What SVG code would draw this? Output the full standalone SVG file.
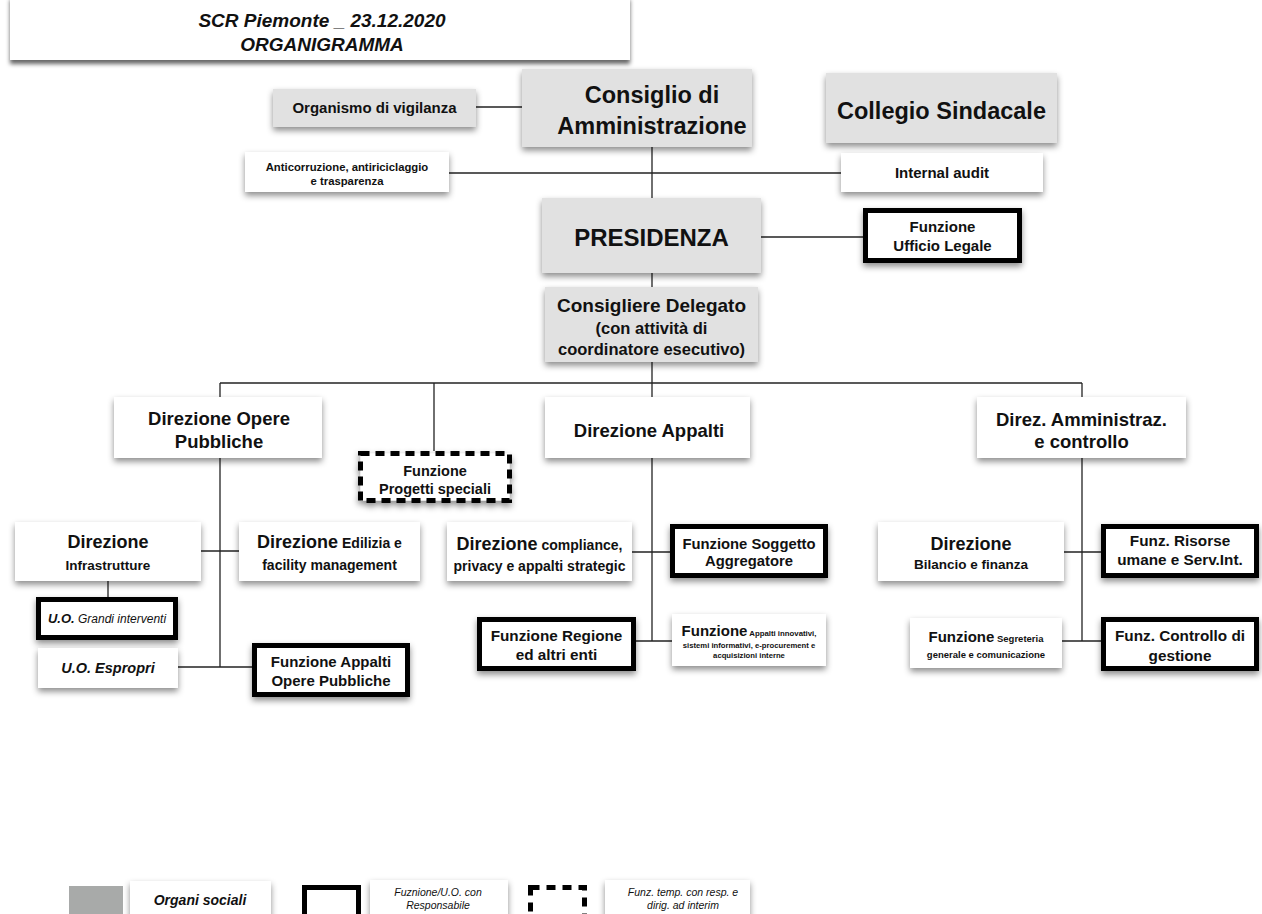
<svg xmlns="http://www.w3.org/2000/svg" width="1262" height="914" viewBox="0 0 1262 914">
  <defs>
    <filter id="shadow" x="-10%" y="-20%" width="120%" height="150%">
      <feDropShadow dx="0" dy="3.5" stdDeviation="3" flood-color="#000" flood-opacity="0.45"/>
    </filter>
    <filter id="shadowTitle" x="-5%" y="-20%" width="110%" height="160%">
      <feDropShadow dx="0" dy="4" stdDeviation="2" flood-color="#000" flood-opacity="0.6"/>
    </filter>
    <style>
      text { font-family: "Liberation Sans", Arial, sans-serif; fill: #111; text-anchor: middle; font-weight: bold; }
      .org { fill: #e1e1e1; filter: url(#shadow); }
      .box { fill: #fff; filter: url(#shadow); }
      .resp { fill: #fff; stroke: #000; stroke-width: 5; filter: url(#shadow); }
      .temp { fill: #fff; stroke: #000; stroke-width: 5; stroke-dasharray: 9 6; filter: url(#shadow); }
      .link { stroke: #222; stroke-width: 1.3; fill: none; }
      .it { font-style: italic; }
      .norm { font-weight: normal; }
    </style>
  </defs>

  <!-- Title -->
  <g id="title">
    <rect x="10" y="-4" width="620" height="64" fill="#fff" filter="url(#shadowTitle)"/>
    <text x="322" y="27" class="it" font-size="19">SCR Piemonte _ 23.12.2020</text>
    <text x="322" y="51" class="it" font-size="19">ORGANIGRAMMA</text>
  </g>

  <!-- Connectors -->
  <g id="connectors" class="link">
    <line x1="476" y1="107" x2="522" y2="107"/>
    <line x1="652" y1="147" x2="652" y2="198"/>
    <line x1="449" y1="173" x2="841" y2="173"/>
    <line x1="761" y1="237" x2="863" y2="237"/>
    <line x1="652" y1="273" x2="652" y2="287"/>
    <line x1="652" y1="362" x2="652" y2="397"/>
    <line x1="220" y1="383" x2="1082" y2="383"/>
    <line x1="220" y1="383" x2="220" y2="397"/>
    <line x1="434" y1="383" x2="434" y2="451"/>
    <line x1="1082" y1="383" x2="1082" y2="397"/>
    <!-- Opere Pubbliche branch -->
    <line x1="220" y1="458" x2="220" y2="667"/>
    <line x1="201" y1="551" x2="239" y2="551"/>
    <line x1="108" y1="581" x2="108" y2="597"/>
    <line x1="178" y1="667" x2="252" y2="667"/>
    <!-- Appalti branch -->
    <line x1="652" y1="458" x2="652" y2="641"/>
    <line x1="632" y1="552" x2="670" y2="552"/>
    <line x1="636" y1="641" x2="672" y2="641"/>
    <!-- Amministrazione branch -->
    <line x1="1082" y1="458" x2="1082" y2="641"/>
    <line x1="1064" y1="552" x2="1101" y2="552"/>
    <line x1="1062" y1="641" x2="1101" y2="641"/>
  </g>

  <g id="organismo-vigilanza">
    <rect class="org" x="273" y="89" width="203" height="38"/>
    <text x="374.5" y="113" font-size="15">Organismo di vigilanza</text>
  </g>

  <g id="consiglio-amministrazione">
    <rect class="org" x="522" y="69" width="230" height="78"/>
    <text x="652" y="103" font-size="23.5">Consiglio di</text>
    <text x="652" y="134" font-size="23.5">Amministrazione</text>
  </g>

  <g id="collegio-sindacale">
    <rect class="org" x="826" y="73" width="231" height="70"/>
    <text x="941.5" y="118.5" font-size="23.5">Collegio Sindacale</text>
  </g>

  <g id="anticorruzione">
    <rect class="box" x="245" y="152" width="204" height="40"/>
    <text x="347" y="171" font-size="11.3">Anticorruzione, antiriciclaggio</text>
    <text x="347" y="185" font-size="11.3">e trasparenza</text>
  </g>

  <g id="internal-audit">
    <rect class="box" x="841" y="153" width="202" height="39"/>
    <text x="942" y="178" font-size="15">Internal audit</text>
  </g>

  <g id="presidenza">
    <rect class="org" x="542" y="198" width="219" height="75"/>
    <text x="651.5" y="246" font-size="24">PRESIDENZA</text>
  </g>

  <g id="ufficio-legale">
    <rect class="resp" x="865.5" y="210.5" width="154" height="50"/>
    <text x="942.5" y="232" font-size="15">Funzione</text>
    <text x="942.5" y="251" font-size="15">Ufficio Legale</text>
  </g>

  <g id="consigliere-delegato">
    <rect class="org" x="545" y="287" width="213" height="75"/>
    <text x="651.5" y="312" font-size="19">Consigliere Delegato</text>
    <text x="651.5" y="334" font-size="16.5">(con attività di</text>
    <text x="651.5" y="355" font-size="16.5">coordinatore esecutivo)</text>
  </g>

  <g id="direzione-opere-pubbliche">
    <rect class="box" x="114" y="397" width="208" height="61"/>
    <text x="219" y="425" font-size="18.5">Direzione Opere</text>
    <text x="219" y="448" font-size="18.5">Pubbliche</text>
  </g>

  <g id="progetti-speciali">
    <rect class="temp" x="360.5" y="453.5" width="149" height="47"/>
    <text x="435" y="476" font-size="14.5">Funzione</text>
    <text x="435" y="494" font-size="14.5">Progetti speciali</text>
  </g>

  <g id="direzione-appalti">
    <rect class="box" x="545" y="397" width="205" height="61"/>
    <text x="649" y="437" font-size="18.5">Direzione Appalti</text>
  </g>

  <g id="direzione-amministrazione">
    <rect class="box" x="977" y="397" width="209" height="61"/>
    <text x="1081.5" y="426" font-size="18.5">Direz. Amministraz.</text>
    <text x="1081.5" y="448" font-size="18.5">e controllo</text>
  </g>

  <g id="direzione-infrastrutture">
    <rect class="box" x="15" y="522" width="186" height="59"/>
    <text x="108" y="548" font-size="18">Direzione</text>
    <text x="108" y="570" font-size="13.5">Infrastrutture</text>
  </g>

  <g id="direzione-edilizia">
    <rect class="box" x="239" y="522" width="181" height="59"/>
    <text x="329.5" y="548"><tspan font-size="18">Direzione</tspan><tspan font-size="14"> Edilizia e</tspan></text>
    <text x="329.5" y="570" font-size="14">facility management</text>
  </g>

  <g id="uo-grandi-interventi">
    <rect class="resp" x="38.5" y="599.5" width="137" height="38"/>
    <text x="107" y="623" class="it"><tspan font-size="13">U.O.</tspan><tspan font-size="12" class="norm"> Grandi interventi</tspan></text>
  </g>

  <g id="uo-espropri">
    <rect class="box" x="38" y="648" width="140" height="40"/>
    <text x="108" y="673" font-size="14.5" class="it">U.O. Espropri</text>
  </g>

  <g id="appalti-opere-pubbliche">
    <rect class="resp" x="254.5" y="645.5" width="153" height="49"/>
    <text x="331" y="667" font-size="15">Funzione Appalti</text>
    <text x="331" y="686" font-size="15">Opere Pubbliche</text>
  </g>

  <g id="direzione-compliance">
    <rect class="box" x="447" y="522" width="185" height="59"/>
    <text x="539.5" y="550"><tspan font-size="18">Direzione</tspan><tspan font-size="14"> compliance,</tspan></text>
    <text x="539.5" y="571" font-size="14">privacy e appalti strategic</text>
  </g>

  <g id="soggetto-aggregatore">
    <rect class="resp" x="672.5" y="526.5" width="153" height="49"/>
    <text x="749" y="549" font-size="14.8">Funzione Soggetto</text>
    <text x="749" y="566" font-size="14.8">Aggregatore</text>
  </g>

  <g id="regione-enti">
    <rect class="resp" x="479.5" y="619.5" width="154" height="49"/>
    <text x="556.5" y="641" font-size="15.3">Funzione Regione</text>
    <text x="556.5" y="660" font-size="15.3">ed altri enti</text>
  </g>

  <g id="appalti-innovativi">
    <rect class="box" x="672" y="614" width="154" height="52"/>
    <text x="749" y="636"><tspan font-size="15">Funzione</tspan><tspan font-size="7.8"> Appalti innovativi,</tspan></text>
    <text x="749" y="648" font-size="7.7">sistemi informativi, e-procurement e</text>
    <text x="749" y="658" font-size="7.7">acquisizioni interne</text>
  </g>

  <g id="direzione-bilancio">
    <rect class="box" x="878" y="522" width="186" height="59"/>
    <text x="971" y="550" font-size="18">Direzione</text>
    <text x="971" y="569" font-size="13.5">Bilancio e finanza</text>
  </g>

  <g id="risorse-umane">
    <rect class="resp" x="1103.5" y="526.5" width="153" height="49"/>
    <text x="1180" y="546" font-size="15.3">Funz. Risorse</text>
    <text x="1180" y="565" font-size="15.3">umane e Serv.Int.</text>
  </g>

  <g id="segreteria-generale">
    <rect class="box" x="910" y="618" width="152" height="50"/>
    <text x="986" y="642"><tspan font-size="15">Funzione</tspan><tspan font-size="9.5"> Segreteria</tspan></text>
    <text x="986" y="658" font-size="9.5">generale e comunicazione</text>
  </g>

  <g id="controllo-gestione">
    <rect class="resp" x="1103.5" y="619.5" width="153" height="49"/>
    <text x="1180" y="641" font-size="15.3">Funz. Controllo di</text>
    <text x="1180" y="661" font-size="15.3">gestione</text>
  </g>

  <!-- Legend -->
  <g id="legend">
    <rect x="69" y="886" width="54" height="32" fill="#a8aaa9"/>
    <rect class="box" x="130" y="881" width="141" height="40"/>
    <text x="200" y="905" font-size="14" class="it">Organi sociali</text>

    <rect x="304.5" y="887.5" width="54" height="30" fill="#fff" stroke="#000" stroke-width="5"/>
    <rect class="box" x="370" y="880" width="138" height="40"/>
    <text x="438" y="896" font-size="10.5" class="it norm">Fuznione/U.O. con</text>
    <text x="438" y="909" font-size="10.5" class="it norm">Responsabile</text>

    <rect x="530.5" y="887.5" width="54" height="30" fill="#fff" stroke="#000" stroke-width="5" stroke-dasharray="9 7"/>
    <rect class="box" x="605" y="880" width="145" height="40"/>
    <text x="683" y="896" font-size="10.5" class="it norm">Funz. temp. con resp. e</text>
    <text x="683" y="909" font-size="10.5" class="it norm">dirig. ad  interim</text>
  </g>
</svg>
